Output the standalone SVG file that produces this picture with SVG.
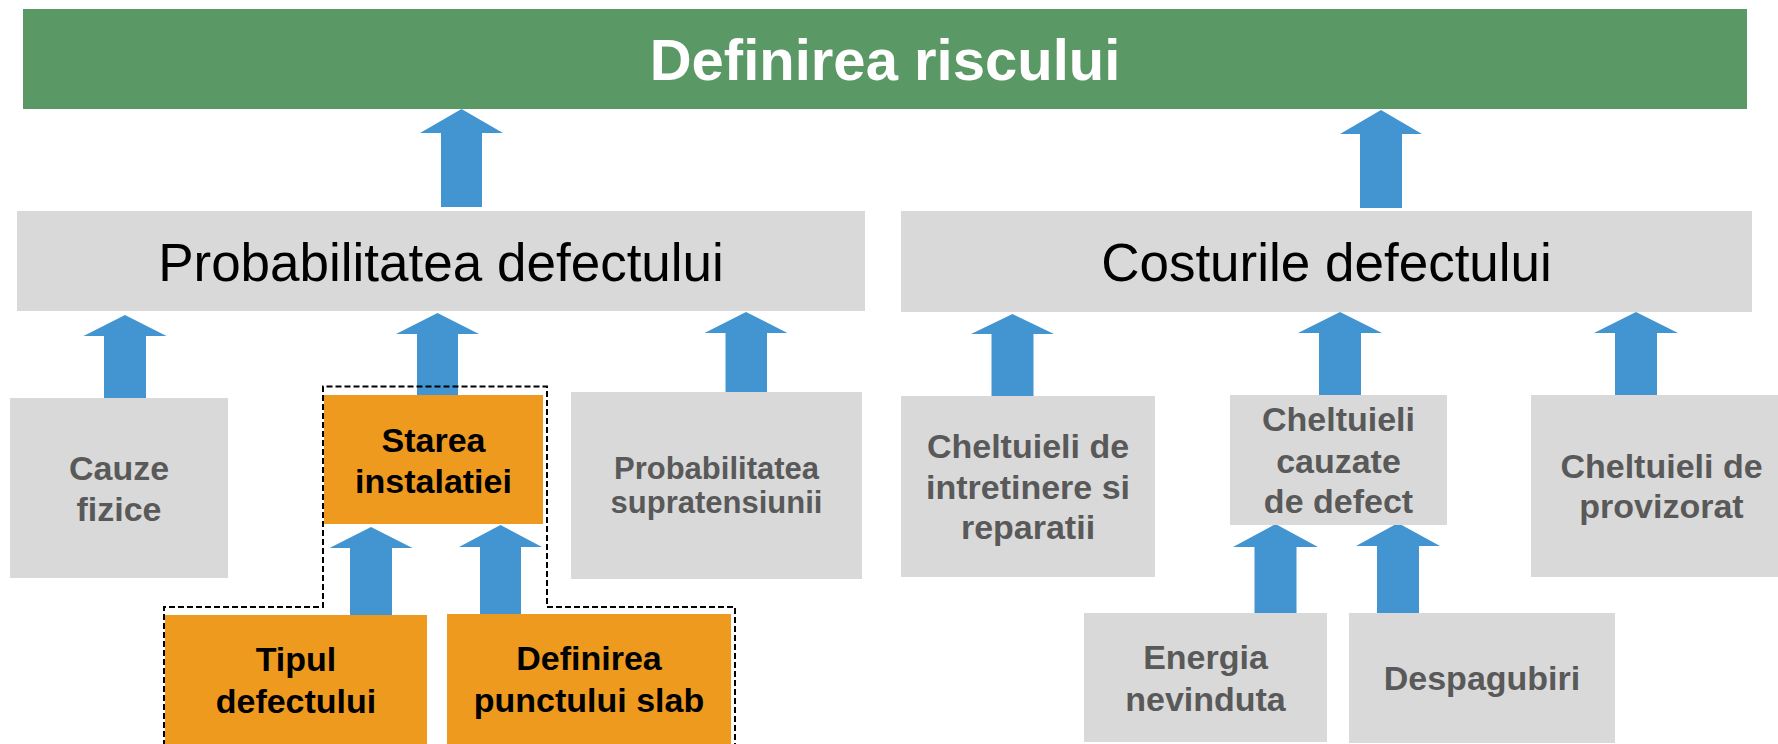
<svg xmlns="http://www.w3.org/2000/svg" width="1778" height="744" viewBox="0 0 1778 744">
<style>
.box{fill:#D9D9D9}
.org{fill:#EE9A1F}
.t{font-family:"Liberation Sans",Arial,sans-serif;font-weight:bold;font-size:34px;fill:#595959;text-anchor:middle}
.tb{font-family:"Liberation Sans",Arial,sans-serif;font-weight:bold;font-size:34px;fill:#000;text-anchor:middle}
.big{font-family:"Liberation Sans",Arial,sans-serif;font-size:53px;fill:#000;text-anchor:middle}
.arr{fill:#4395D2}
.dash{fill:none;stroke:#000;stroke-width:2;stroke-dasharray:6 3}
</style>
<rect width="1778" height="744" fill="#fff"/>
<g id="connectors">
<polygon class="arr" points="461.5,109 503,133 482,133 482,207 441,207 441,133 420,133"/>
<polygon class="arr" points="1381,110 1422,134 1402,134 1402,208 1360,208 1360,134 1340,134"/>
<polygon class="arr" points="125,315 166.5,336 146,336 146,398 104,398 104,336 83.5,336"/>
<polygon class="arr" points="437.5,313 479,334 458,334 458,395 417,395 417,334 396,334"/>
<polygon class="arr" points="746,312 787.5,333 767,333 767,394 725.5,394 725.5,333 704.5,333"/>
<polygon class="arr" points="371,527 412.5,548 392,548 392,615 350,615 350,548 329.5,548"/>
<polygon class="arr" points="500.5,525 542,547 521,547 521,614 480,614 480,547 459,547"/>
<polygon class="arr" points="1012.5,314 1054,334 1033.5,334 1033.5,397 991.5,397 991.5,334 971,334"/>
<polygon class="arr" points="1340,312 1382,333 1361,333 1361,395 1319,395 1319,333 1298,333"/>
<polygon class="arr" points="1275.5,524 1318,547 1296.5,547 1296.5,613 1254.5,613 1254.5,547 1233,547"/>
<polygon class="arr" points="1398,523 1440,546 1419,546 1419,613 1377,613 1377,546 1356,546"/>
<polygon class="arr" points="1636,312 1678,333 1657,333 1657,395 1615,395 1615,333 1594,333"/>
</g>
<g id="definirea-riscului">
<rect x="23" y="9" width="1724" height="100" fill="#5A9865"/>
<text x="885" y="80" font-family="Liberation Sans, Arial, sans-serif" font-weight="bold" font-size="58" fill="#fff" text-anchor="middle">Definirea riscului</text>
</g>
<g id="probabilitatea-defectului">
<rect class="box" x="17" y="211" width="848" height="100"/>
<text class="big" x="441" y="281">Probabilitatea defectului</text>
</g>
<g id="costurile-defectului">
<rect class="box" x="901" y="211" width="851" height="101"/>
<text class="big" x="1326.5" y="281">Costurile defectului</text>
</g>
<g id="cauze-fizice">
<rect class="box" x="10" y="398" width="218" height="180"/>
<text class="t" x="119" y="480">Cauze</text>
<text class="t" x="119" y="521">fizice</text>
</g>
<g id="starea-instalatiei">
<rect class="org" x="324" y="395" width="219" height="129"/>
<text class="tb" x="433.5" y="452">Starea</text>
<text class="tb" x="433.5" y="493">instalatiei</text>
</g>
<g id="probabilitatea-supratensiunii">
<rect class="box" x="571" y="392" width="291" height="187"/>
<text class="t" x="716.5" y="479" font-size="31" style="font-size:31px">Probabilitatea</text>
<text class="t" x="716.5" y="513" style="font-size:31px">supratensiunii</text>
</g>
<g id="tipul-defectului">
<rect class="org" x="165" y="615" width="262" height="135"/>
<text class="tb" x="296" y="671">Tipul</text>
<text class="tb" x="296" y="713">defectului</text>
</g>
<g id="definirea-punctului-slab">
<rect class="org" x="447" y="614" width="284" height="136"/>
<text class="tb" x="589" y="670">Definirea</text>
<text class="tb" x="589" y="712">punctului slab</text>
</g>
<g id="grup-stare">
<path class="dash" d="M164,746 L164,607 L323,607 L323,386.5 L547,386.5 L547,607 L735,607 L735,746"/>
</g>
<g id="cheltuieli-intretinere">
<rect class="box" x="901" y="396" width="254" height="181"/>
<text class="t" x="1028" y="458">Cheltuieli de</text>
<text class="t" x="1028" y="499">intretinere si</text>
<text class="t" x="1028" y="539">reparatii</text>
</g>
<g id="cheltuieli-cauzate">
<rect class="box" x="1230" y="395" width="217" height="130"/>
<text class="t" x="1338.5" y="431">Cheltuieli</text>
<text class="t" x="1338.5" y="473">cauzate</text>
<text class="t" x="1338.5" y="513">de defect</text>
</g>
<g id="energia-nevinduta">
<rect class="box" x="1084" y="613" width="243" height="129"/>
<text class="t" x="1205.5" y="669">Energia</text>
<text class="t" x="1205.5" y="711">nevinduta</text>
</g>
<g id="despagubiri">
<rect class="box" x="1349" y="613" width="266" height="130"/>
<text class="t" x="1482" y="690">Despagubiri</text>
</g>
<g id="cheltuieli-provizorat">
<rect class="box" x="1531" y="395" width="261" height="182"/>
<text class="t" x="1661.5" y="478">Cheltuieli de</text>
<text class="t" x="1661.5" y="518">provizorat</text>
</g>
</svg>
